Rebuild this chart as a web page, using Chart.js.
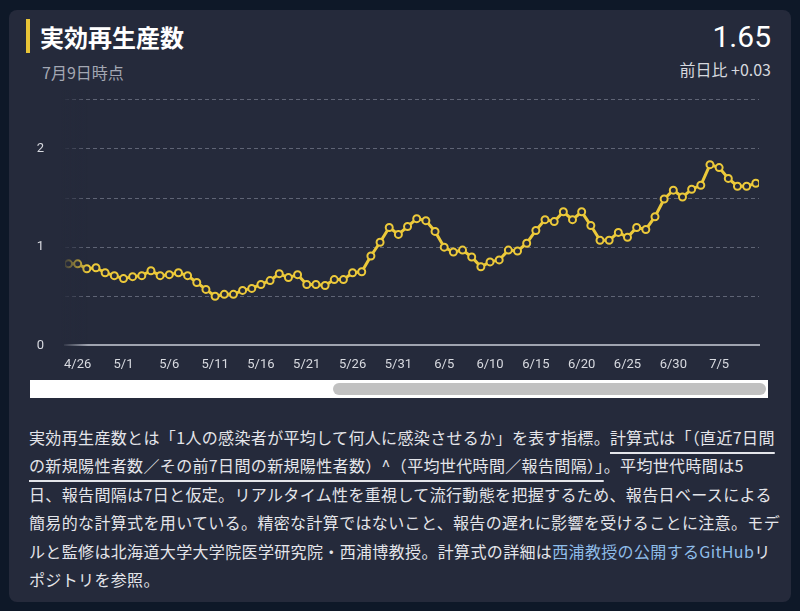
<!DOCTYPE html>
<html lang="ja">
<head>
<meta charset="UTF-8">
<script src="https://cdn.jsdelivr.net/npm/chart.js"></script>
<title>実効再生産数</title>
<style>
  html, body { margin: 0; padding: 0; background: #0e1828; width: 800px; height: 611px; overflow: hidden; }
  body { font-family: "Noto Sans CJK JP", "Noto Sans", sans-serif; }
  .card { position: absolute; left: 9px; top: 10px; width: 782px; height: 592px; background: #252a3b; border-radius: 8px; }
  .bar { position: absolute; left: 26px; top: 19px; width: 4px; height: 34px; background: #e8c437; }
  .title { position: absolute; left: 40px; top: 20px; font-size: 24px; font-weight: bold; color: #fff; line-height: 34px; }
  .sub { position: absolute; left: 42px; top: 60px; font-size: 16px; color: #a3a7b3; }
  .big { position: absolute; right: 29px; top: 17px; font-family: Roboto, sans-serif; font-size: 30px; color: #fff; line-height: 40px; }
  .diff { position: absolute; right: 29px; top: 57px; font-size: 16px; color: #d6d8de; }
  .chartbox { position: absolute; left: 20px; top: 71px; width: 745px; height: 314px; }
  .fade { position: absolute; left: 58px; top: 90px; width: 30px; height: 265px;
          background: linear-gradient(to right, #252a3b 10%, rgba(37,42,59,0)); }
  .scroll { position: absolute; left: 30px; top: 380px; width: 738px; height: 18px; background: #fff; }
  .thumb { position: absolute; left: 303px; top: 3px; width: 433px; height: 12px; background: #c1c1c1; border-radius: 6px; }
  .text { position: absolute; left: 29px; top: 423px; width: 760px; font-size: 16px; line-height: 28.4px;
          color: #e4e5ea; letter-spacing: 0.35px; white-space: nowrap; }
  .u { text-decoration: underline; text-decoration-thickness: 2px; text-underline-offset: 8px; }
  .link { color: #8fbde9; }
</style>
</head>
<body>
<div class="card"></div>
<div class="bar"></div>
<div class="title">実効再生産数</div>
<div class="sub">7月9日時点</div>
<div class="big">1.65</div>
<div class="diff">前日比 +0.03</div>
<div class="chartbox"><canvas id="myChart"></canvas></div>
<div class="fade"></div>
<div class="scroll"><div class="thumb"></div></div>
<div class="text">実効再生産数とは「1人の感染者が平均して何人に感染させるか」を表す指標。<span class="u">計算式は「（直近7日間</span><br><span class="u">の新規陽性者数／その前7日間の新規陽性者数）^（平均世代時間／報告間隔）」</span>。平均世代時間は5<br>日、報告間隔は7日と仮定。リアルタイム性を重視して流行動態を把握するため、報告日ベースによる<br>簡易的な計算式を用いている。精密な計算ではないこと、報告の遅れに影響を受けることに注意。モデ<br>ルと監修は北海道大学大学院医学研究院・西浦博教授。計算式の詳細は<span class="link">西浦教授の公開するGitHub</span>リ<br>ポジトリを参照。</div>

<script>
  // dates shown in the scrolled window (4/24 is only partly visible at the left edge)
  const dates = ['4/24','4/25','4/26','4/27','4/28','4/29','4/30',
    '5/1','5/2','5/3','5/4','5/5','5/6','5/7','5/8','5/9','5/10','5/11','5/12','5/13','5/14','5/15',
    '5/16','5/17','5/18','5/19','5/20','5/21','5/22','5/23','5/24','5/25','5/26','5/27','5/28','5/29','5/30','5/31',
    '6/1','6/2','6/3','6/4','6/5','6/6','6/7','6/8','6/9','6/10','6/11','6/12','6/13','6/14','6/15',
    '6/16','6/17','6/18','6/19','6/20','6/21','6/22','6/23','6/24','6/25','6/26','6/27','6/28','6/29','6/30',
    '7/1','7/2','7/3','7/4','7/5','7/6','7/7','7/8','7/9'];
  const rt = [0.85, 0.83, 0.83, 0.78, 0.79, 0.74, 0.71,
    0.68, 0.70, 0.71, 0.76, 0.71, 0.72, 0.74, 0.71, 0.64, 0.57, 0.50, 0.52, 0.52, 0.56, 0.58,
    0.62, 0.66, 0.73, 0.69, 0.72, 0.62, 0.62, 0.61, 0.67, 0.67, 0.74, 0.75, 0.91, 1.05, 1.20, 1.13,
    1.21, 1.29, 1.27, 1.16, 1.00, 0.95, 0.97, 0.90, 0.80, 0.85, 0.87, 0.97, 0.96, 1.04, 1.17,
    1.28, 1.26, 1.36, 1.28, 1.36, 1.22, 1.07, 1.07, 1.15, 1.10, 1.20, 1.18, 1.31, 1.49, 1.58,
    1.51, 1.59, 1.63, 1.84, 1.81, 1.70, 1.62, 1.62, 1.65];
  const tickDates = ['4/26','5/1','5/6','5/11','5/16','5/21','5/26','5/31','6/5','6/10','6/15','6/20','6/25','6/30','7/5'];
  const yLabels = [0, 1, 2];

  const points = rt.map((v, i) => ({ x: i, y: v }));
  const ctx = document.getElementById('myChart');

  new Chart(ctx, {
    type: 'line',
    data: {
      datasets: [{
        data: points,
        borderColor: '#ecc93a',
        borderWidth: 3,
        pointRadius: 3.5,
        pointBorderWidth: 2,
        pointBackgroundColor: '#252a3b',
        pointBorderColor: '#ecc93a',
        tension: 0
      }]
    },
    options: {
      responsive: true,
      maintainAspectRatio: false,
      animation: false,
      layout: { padding: 0 },
      plugins: { legend: { display: false }, tooltip: { enabled: false } },
      scales: {
        x: {
          type: 'linear',
          min: 0.62,
          max: dates.length - 1 + 0.35,
          grid: { display: false, drawTicks: false },
          border: { display: true, color: '#a0a4b0', width: 2 },
          afterBuildTicks: (scale) => {
            scale.ticks = tickDates.map(d => ({ value: dates.indexOf(d) }));
          },
          ticks: {
            autoSkip: false,
            maxRotation: 0,
            padding: 12,
            color: '#d8dae0',
            font: { family: 'Roboto', size: 13 },
            callback: (v) => dates[v]
          }
        },
        y: {
          min: 0,
          max: 2.5,
          afterFit: (scale) => { scale.width = 45; },
          grid: {
            drawTicks: false,
            color: (c) => c.tick && c.tick.value === 0 ? 'rgba(0,0,0,0)' : '#5f6475',
            lineWidth: 1
          },
          border: { display: false, dash: [4, 3] },
          ticks: {
            stepSize: 0.5,
            padding: 21,
            color: '#d8dae0',
            font: { family: 'Roboto', size: 13 },
            callback: (v) => yLabels.includes(v) ? String(v) : ''
          }
        }
      }
    }
  });
</script>
</body>
</html>
